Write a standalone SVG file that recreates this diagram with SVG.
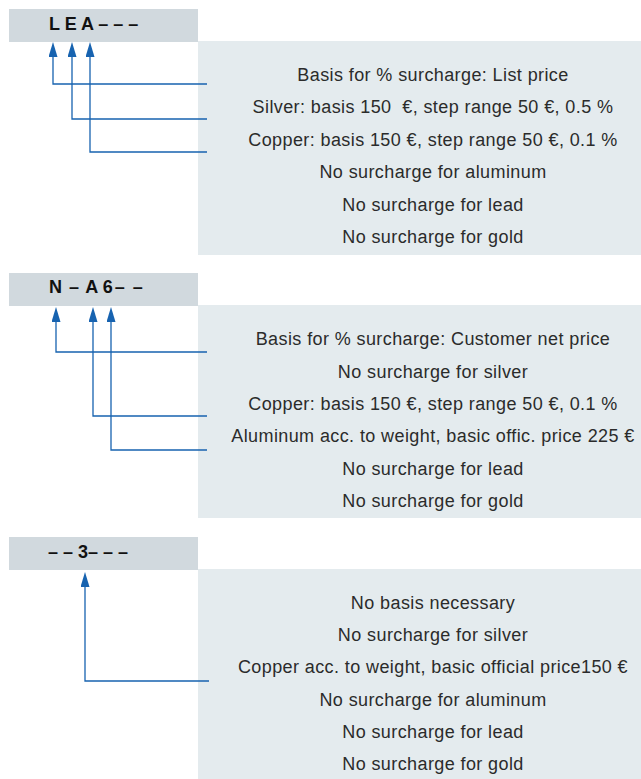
<svg xmlns="http://www.w3.org/2000/svg" width="641" height="779" viewBox="0 0 641 779">
  <style>
    .hdr { fill: #d1d9de; }
    .box { fill: #e4ebee; }
    .code { font-family: "Liberation Sans", Arial, sans-serif; font-weight: bold; font-size: 18px; fill: #111; }
    .t { font-family: "Liberation Sans", Arial, sans-serif; font-size: 18px; letter-spacing: 0.4px; fill: #2b2b2b; text-anchor: middle; white-space: pre; }
    .c { fill: none; stroke: #1763b0; stroke-width: 1.3; marker-end: url(#ah); }
  </style>
  <defs>
    <marker id="ah" viewBox="0 0 15 9" refX="7" refY="4.5" markerWidth="15" markerHeight="9" markerUnits="userSpaceOnUse" orient="auto">
      <path d="M0,0 L15,4.5 L0,9 Z" fill="#1763b0"/>
    </marker>
  </defs>

  <!-- Section 1 -->
  <g id="code-LEA">
    <rect class="hdr" x="9" y="9" width="189" height="33"/>
    <text class="code" x="49" y="30">L E A – – –</text>
  </g>
  <g id="info-LEA">
    <rect class="box" x="198" y="41" width="443" height="214"/>
    <text class="t" x="433" y="80.5">Basis for % surcharge: List price</text>
    <text class="t" x="433" y="113" xml:space="preserve">Silver: basis 150  €, step range 50 €, 0.5 %</text>
    <text class="t" x="433" y="145.5">Copper: basis 150 €, step range 50 €, 0.1 %</text>
    <text class="t" x="433" y="178">No surcharge for aluminum</text>
    <text class="t" x="433" y="210.5">No surcharge for lead</text>
    <text class="t" x="433" y="243">No surcharge for gold</text>
  </g>

  <!-- Section 2 -->
  <g id="code-NA6">
    <rect class="hdr" x="9" y="273" width="189" height="33"/>
    <text class="code" x="49" y="293">N <tspan dx="2">–</tspan> <tspan dx="2">A</tspan> 6<tspan dx="2">–</tspan> <tspan dx="3">–</tspan></text>
  </g>
  <g id="info-NA6">
    <rect class="box" x="198" y="305" width="443" height="213"/>
    <text class="t" x="433" y="345">Basis for % surcharge: Customer net price</text>
    <text class="t" x="433" y="377.5">No surcharge for silver</text>
    <text class="t" x="433" y="410">Copper: basis 150 €, step range 50 €, 0.1 %</text>
    <text class="t" x="433" y="442">Aluminum acc. to weight, basic offic. price 225 €</text>
    <text class="t" x="433" y="474.5">No surcharge for lead</text>
    <text class="t" x="433" y="507">No surcharge for gold</text>
  </g>

  <!-- Section 3 -->
  <g id="code-3">
    <rect class="hdr" x="9" y="537" width="189" height="33"/>
    <text class="code" x="48" y="558">– –<tspan dx="5">3</tspan>– – –</text>
  </g>
  <g id="info-3">
    <rect class="box" x="198" y="569" width="443" height="210"/>
    <text class="t" x="433" y="608.5">No basis necessary</text>
    <text class="t" x="433" y="641">No surcharge for silver</text>
    <text class="t" x="433" y="673">Copper acc. to weight, basic official price150 €</text>
    <text class="t" x="433" y="705.5">No surcharge for aluminum</text>
    <text class="t" x="433" y="738">No surcharge for lead</text>
    <text class="t" x="433" y="770">No surcharge for gold</text>
  </g>

  <g id="connectors">
    <path class="c" d="M207,84 H53 V50"/>
    <path class="c" d="M207,119 H72 V50"/>
    <path class="c" d="M207,152 H90 V50"/>
    <path class="c" d="M207,352 H56 V315"/>
    <path class="c" d="M207,416 H93 V315"/>
    <path class="c" d="M207,450 H111 V315"/>
    <path class="c" d="M209,681 H85 V580"/>
  </g>
</svg>
